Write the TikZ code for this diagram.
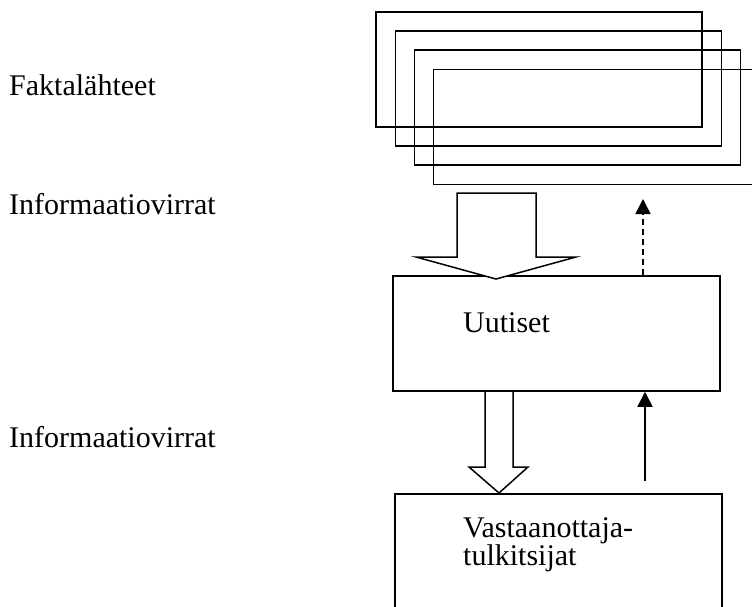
\documentclass[tikz,border=0pt]{standalone}
\usepackage{fontspec}
\setmainfont{Liberation Serif}
\usetikzlibrary{arrows.meta}
\tikzset{
  lw/.style={line width=1.5pt},
  srcbox/.style={lw, draw, minimum width=326, minimum height=115, inner sep=0pt},
  mainbox/.style={lw, draw, minimum width=327, minimum height=115, inner sep=0pt},
  lbl/.style={anchor=base west, inner sep=0pt, font=\fontsize{30}{30}\selectfont},
  blockarrow/.style={lw, draw, fill=white, line join=miter},
  flowtip/.style={-{Triangle[length=15pt,width=15pt]}}
}
\begin{document}
\begin{tikzpicture}[x=1pt,y=-1pt]
\useasboundingbox (0,0) rectangle (752,606);
\clip (0,0) rectangle (752,606);
% labels on the left
\node[lbl] (l1) at (9,95) {Faktalähteet};
\node[lbl] (l2) at (9,214) {Informaatiovirrat};
\node[lbl] (l3) at (9,447) {Informaatiovirrat};
% stacked source boxes
\node[srcbox] (s1) at (539,69.5) {};
\node[srcbox] (s2) at (558.5,88.5) {};
\node[srcbox] (s3) at (577.5,107.5) {};
\node[srcbox] (s4) at (596.5,127) {};
% news box
\node[mainbox] (uut) at (556.5,333.5) {};
\node[lbl] (uuttxt) at (463,332) {Uutiset};
% receivers box (bottom cut by the page edge)
\node[lw, draw, minimum width=327, minimum height=160, inner sep=0pt] (rec) at (558.5,574) {};
\node[lbl] (rec1) at (463,537) {Vastaanottaja-};
\node[lbl] (rec2) at (463,565) {tulkitsijat};
% block arrow from sources to news
\draw[blockarrow] (457,193) -- (536,193) -- (536,257) -- (576,257) -- (496,279) -- (416,257) -- (457,257) -- cycle;
% block arrow from news to receivers
\draw[blockarrow] (485,391) -- (513,391) -- (513,467) -- (528,467) -- (499,493) -- (469,467) -- (485,467) -- cycle;
% feedback arrows
\coordinate (fbtop) at (643,199);
\coordinate (fbbot) at (645,481);
\draw[lw, flowtip, dash pattern=on 6pt off 4pt] (uut.north -| fbtop) -- (fbtop);
\draw[lw, flowtip] (fbbot) -- (uut.south -| fbbot);
\end{tikzpicture}
\end{document}
